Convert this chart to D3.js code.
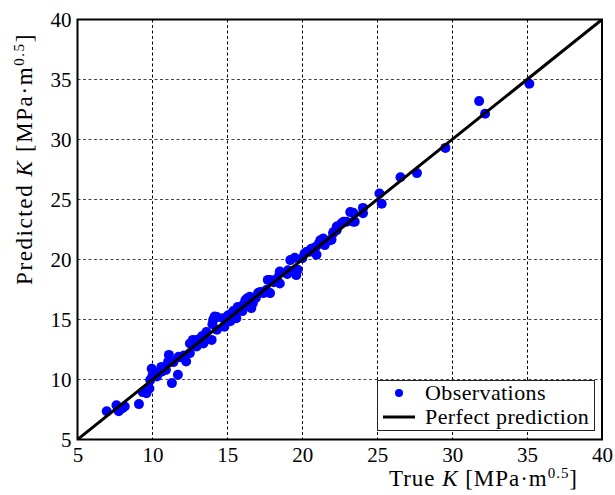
<!DOCTYPE html>
<html>
<head>
<meta charset="utf-8">
<script src="https://cdn.jsdelivr.net/npm/d3@7"></script>
<style>
  html, body { margin: 0; padding: 0; background: #fff; }
  svg { display: block; }
  text { font-family: "Liberation Serif", "Times New Roman", serif; fill: #000; }
</style>
</head>
<body>
<svg id="chart" width="615" height="495"></svg>
<script>
// Fracture toughness: measured vs. model-predicted K, in MPa·m^0.5
const trueK = [
  6.95, 7.6, 7.75, 8.15, 8.0, 9.1, 9.35, 9.6, 9.8, 9.85, 9.95, 10.0, 10.15, 10.3, 10.6, 10.6, 10.9,
  11.1, 11.05, 11.3, 11.4, 11.7, 11.75, 11.85, 12.1, 12.25, 12.5, 12.5, 12.7, 12.95, 12.95, 13.3,
  13.4, 13.4, 13.6, 13.95, 14.0, 14.05, 14.15, 14.3, 14.3, 14.7, 14.8, 15.05, 15.2, 15.3, 15.4,
  15.6, 15.6, 15.7, 16.0, 16.05, 16.2, 16.3, 16.5, 16.6, 16.7, 16.9, 17.05, 17.2, 17.4, 17.6, 17.7,
  17.85, 17.85, 18.1, 18.3, 18.5, 18.5, 18.5, 19.0, 19.05, 19.2, 19.4, 19.5, 19.6, 19.7, 20.0,
  20.15, 20.3, 20.5, 20.6, 20.9, 20.95, 21.1, 21.2, 21.4, 21.5, 21.85, 21.95, 22.05, 22.1, 22.3,
  22.3, 22.6, 22.75, 22.95, 23.2, 23.4, 23.4, 23.5, 24.05, 24.05, 25.15, 25.3, 26.55, 27.65,
  29.55, 31.8, 32.2, 35.15
];
const predictedK = [
  7.35, 7.85, 7.35, 7.75, 7.6, 7.95, 8.95, 8.85, 9.25, 9.95, 10.9, 10.3, 10.6, 10.25, 10.65, 11.05, 10.8,
  12.05, 11.5, 9.7, 11.45, 10.4, 11.9, 11.85, 12.0, 11.5, 12.2, 13.0, 13.3, 12.75, 13.3, 13.6,
  13.0, 13.6, 13.95, 13.3, 14.6, 14.95, 15.25, 14.15, 15.2, 15.1, 14.4, 15.35, 14.85, 15.5, 15.7,
  15.8, 15.1, 16.05, 15.7, 16.2, 16.6, 16.75, 16.9, 15.95, 16.35, 16.8, 17.2, 17.3, 17.2, 17.45, 18.3,
  17.2, 18.3, 18.1, 18.4, 18.0, 18.85, 19.0, 18.8, 19.1, 19.95, 19.0, 20.15, 18.7, 19.15, 20.1,
  20.5, 20.65, 20.65, 20.9, 21.05, 20.4, 21.3, 21.6, 21.75, 21.2, 21.6, 21.65, 22.2, 22.3, 22.45,
  22.75, 23.0, 23.15, 23.15, 23.95, 23.9, 23.15, 23.15, 24.3, 23.85, 25.5, 24.65, 26.85, 27.2,
  29.3, 33.2, 32.15, 34.65
];
const tickValues = [5, 10, 15, 20, 25, 30, 35, 40];
const axisDomain = [5, 40];
const legendLabels = ["Observations", "Perfect prediction"];

const points = trueK.map((t, i) => ({ t, p: predictedK[i] }));

const svg = d3.select("#chart");
const plotLeft = 77.5, plotRight = 602, plotTop = 19.5, plotBottom = 439.5;

const x = d3.scaleLinear().domain(axisDomain).range([plotLeft, plotRight]);
const y = d3.scaleLinear().domain(axisDomain).range([plotBottom, plotTop]);

// dashed grid at every interior tick
const grid = svg.append("g").attr("stroke", "#000").attr("stroke-width", 1)
  .attr("stroke-dasharray", "3,2.5").attr("fill", "none");
grid.selectAll("line.v").data(tickValues.slice(1, -1)).join("line").attr("class", "v")
  .attr("x1", d => Math.round(x(d)) + 0.5).attr("x2", d => Math.round(x(d)) + 0.5)
  .attr("y1", plotTop).attr("y2", plotBottom);
grid.selectAll("line.h").data(tickValues.slice(1, -1)).join("line").attr("class", "h")
  .attr("y1", d => y(d)).attr("y2", d => y(d))
  .attr("x1", plotLeft).attr("x2", plotRight).attr("stroke", "#444");

svg.append("clipPath").attr("id", "plot-clip").append("rect")
  .attr("x", plotLeft).attr("y", plotTop)
  .attr("width", plotRight - plotLeft).attr("height", plotBottom - plotTop);

const plot = svg.append("g").attr("clip-path", "url(#plot-clip)");

// observations
plot.append("g").selectAll("circle").data(points).join("circle")
  .attr("cx", d => x(d.t)).attr("cy", d => y(d.p)).attr("r", 5)
  .attr("fill", "#0000ff");

// perfect prediction line y = x
plot.append("line")
  .attr("x1", x(axisDomain[0])).attr("y1", y(axisDomain[0]))
  .attr("x2", x(axisDomain[1])).attr("y2", y(axisDomain[1]))
  .attr("stroke", "#000").attr("stroke-width", 3);

// tick labels via d3 axes (no tick marks)
const xAxis = svg.append("g").attr("transform", `translate(0,${plotBottom})`)
  .call(d3.axisBottom(x).tickValues(tickValues).tickSize(0).tickPadding(8));
xAxis.select(".domain").remove();
xAxis.selectAll("text").attr("font-size", 21);

const yAxis = svg.append("g").attr("transform", `translate(${plotLeft},0)`)
  .call(d3.axisLeft(y).tickValues(tickValues).tickSize(0).tickPadding(6));
yAxis.select(".domain").remove();
yAxis.selectAll("text").attr("font-size", 21).attr("dy", "0.34em");

// frame
svg.append("rect").attr("x", plotLeft).attr("y", plotTop)
  .attr("width", plotRight - plotLeft).attr("height", plotBottom - plotTop)
  .attr("fill", "none").attr("stroke", "#000").attr("stroke-width", 2);

// axis titles, spaced out to a given overall width
function unitLabel(sel, prefix, width) {
  sel.append("tspan").text(prefix + " ");
  sel.append("tspan").attr("font-style", "italic").text("K");
  sel.append("tspan").text(" [MPa·m");
  sel.append("tspan").attr("font-size", 15).attr("dy", -8).text("0.5");
  sel.append("tspan").attr("dy", 8).text("]");
  const w = sel.node().getComputedTextLength();
  const n = sel.text().length;
  sel.style("letter-spacing", `${Math.max(0, (width - w) / n)}px`);
}
const xl = svg.append("text").attr("x", 578).attr("y", 486)
  .attr("text-anchor", "end").attr("font-size", 23);
unitLabel(xl, "True", 189);

const yl = svg.append("text").attr("transform", "translate(32,33) rotate(-90)")
  .attr("text-anchor", "end").attr("font-size", 23);
unitLabel(yl, "Predicted", 252);

// legend
const lg = svg.append("g");
lg.append("rect").attr("x", 377.5).attr("y", 380.5).attr("width", 217).attr("height", 50)
  .attr("fill", "#fff").attr("stroke", "#222").attr("stroke-width", 1);
lg.append("circle").attr("cx", 399).attr("cy", 393).attr("r", 4).attr("fill", "#0000ff");
lg.append("line").attr("x1", 383).attr("x2", 415).attr("y1", 417).attr("y2", 417)
  .attr("stroke", "#000").attr("stroke-width", 3);
lg.selectAll("text").data(legendLabels).join("text")
  .attr("x", 425).attr("y", (d, i) => 400 + i * 24)
  .attr("font-size", 22).style("letter-spacing", "0.4px").text(d => d);
</script>
</body>
</html>
